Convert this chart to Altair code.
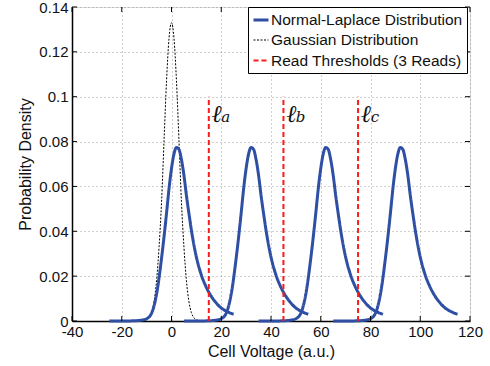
import altair as alt
import pandas as pd

# ---- data ----
centers = [0, 30, 60, 90]
nl_offset = [-25, -20, -15, -12, -10, -8, -6, -4, -2, -1, 0, 1, 2, 3, 4, 5, 6, 7, 8, 9, 10, 12, 14, 16, 18, 20, 22, 25]
nl_density = [0.0, 0.0, 0.0001, 0.0004, 0.0010, 0.0035, 0.0120, 0.0280, 0.0480, 0.0590, 0.0680, 0.0745, 0.0774,
              0.0765, 0.0720, 0.0650, 0.0560, 0.0480, 0.0405, 0.0340, 0.0285, 0.0205, 0.0150, 0.0110, 0.0080,
              0.0058, 0.0044, 0.0030]

gauss_x = [-15, -12, -10, -9, -8, -7, -6, -5, -4, -3, -2, -1, 0, 1, 2, 3, 4, 5, 6, 7, 8, 9, 10, 12, 15]
gauss_y = [0.0, 0.0001, 0.0005, 0.0015, 0.0037, 0.0087, 0.018, 0.033, 0.053, 0.0805, 0.107, 0.126, 0.133,
           0.126, 0.107, 0.0805, 0.053, 0.033, 0.018, 0.0087, 0.0037, 0.0015, 0.0005, 0.0001, 0.0]

thresholds = [15, 45, 75]
threshold_top = 0.1
threshold_names = ["a", "b", "c"]

x_ticks = [-40, -20, 0, 20, 40, 60, 80, 100, 120]
y_ticks = [0, 0.02, 0.04, 0.06, 0.08, 0.1, 0.12, 0.14]

series = ["Normal-Laplace Distribution", "Gaussian Distribution", "Read Thresholds (3 Reads)"]
colors = ["#2E4FA3", "#000000", "#FF1A1A"]
dashes = [[1, 0], [2, 1.5], [5, 3]]
widths = [3, 1, 2]

# ---- tables ----
nl_rows = []
for k, c in enumerate(centers):
    for o, d in zip(nl_offset, nl_density):
        nl_rows.append({"x": c + o, "y": d, "curve": k, "series": series[0]})
nl_df = pd.DataFrame(nl_rows)
g_df = pd.DataFrame({"x": gauss_x, "y": gauss_y, "series": series[1]})
t_df = pd.DataFrame({"x": thresholds, "y": [0] * 3, "y2": [threshold_top] * 3,
                     "series": series[2], "sub": threshold_names, "ell": ["\u2113"] * 3})
xt_df = pd.DataFrame({"x": x_ticks})
yt_df = pd.DataFrame({"y": y_ticks})

W, H = 398, 314
FONT = "Liberation Sans"

xs = alt.Scale(domain=[-40, 120], nice=False, zero=False)
ys = alt.Scale(domain=[0, 0.14], nice=False)

legend = alt.Legend(orient="none", legendX=176, legendY=0, title=None, symbolType="stroke",
                    symbolSize=225, labelFontSize=15.5, labelFont=FONT, labelColor="#111",
                    fillColor="white", strokeColor="black", padding=4, rowPadding=3,
                    labelOffset=1, symbolOffset=0, labelLimit=400)

color_enc = alt.Color("series:N", scale=alt.Scale(domain=series, range=colors), legend=legend)
dash_enc = alt.StrokeDash("series:N", scale=alt.Scale(domain=series, range=dashes), legend=legend)
width_enc = alt.StrokeWidth("series:N", scale=alt.Scale(type="ordinal", domain=series, range=widths),
                            legend=legend)

x_axis = alt.Axis(title="Cell Voltage (a.u.)", values=x_ticks, grid=True, gridDash=[1, 3],
                  gridColor="#888", gridWidth=0.8, tickSize=0, labelPadding=3, labelFontSize=15,
                  labelFont=FONT, labelColor="#111", titleFontSize=16, titleFont=FONT,
                  titleFontWeight="normal", titleColor="#111", titlePadding=4,
                  domainColor="black", domainWidth=1.5, labelFlush=False,
                  labelExpr="'' + datum.value")
y_axis = alt.Axis(title="Probability Density", values=y_ticks, format="~g", grid=True, gridDash=[1, 3],
                  gridColor="#888", gridWidth=0.8, tickSize=0, labelPadding=4, labelFontSize=15,
                  labelFont=FONT, labelColor="#111", titleFontSize=16, titleFont=FONT,
                  titleFontWeight="normal", titleColor="#111", titlePadding=5,
                  domainColor="black", domainWidth=1.5)

gauss = alt.Chart(g_df).mark_line(interpolate="monotone").encode(
    x=alt.X("x:Q", scale=xs, axis=x_axis),
    y=alt.Y("y:Q", scale=ys, axis=y_axis),
    color=color_enc, strokeDash=dash_enc, strokeWidth=width_enc,
)
nl = alt.Chart(nl_df).mark_line(interpolate="monotone").encode(
    x=alt.X("x:Q", scale=xs),
    y=alt.Y("y:Q", scale=ys),
    detail="curve:N",
    color=color_enc, strokeDash=dash_enc, strokeWidth=width_enc,
)
thr = alt.Chart(t_df).mark_rule().encode(
    x=alt.X("x:Q", scale=xs),
    y=alt.Y("y:Q", scale=ys),
    y2="y2:Q",
    color=color_enc, strokeDash=dash_enc, strokeWidth=width_enc,
)
ell = alt.Chart(t_df).mark_text(font="DejaVu Serif", fontStyle="italic", fontSize=24,
                                align="center", baseline="alphabetic", dx=8, color="#111").encode(
    x=alt.X("x:Q", scale=xs), y=alt.value(115), text="ell:N")
sub = alt.Chart(t_df).mark_text(font="DejaVu Serif", fontStyle="italic", fontSize=15,
                                align="center", baseline="alphabetic", dx=17, color="#111").encode(
    x=alt.X("x:Q", scale=xs), y=alt.value(115), text="sub:N")

tick_len = 5
xt_bot = alt.Chart(xt_df).mark_rule(color="black", strokeWidth=1).encode(
    x=alt.X("x:Q", scale=xs), y=alt.value(H), y2=alt.value(H - tick_len))
xt_top = alt.Chart(xt_df).mark_rule(color="black", strokeWidth=1).encode(
    x=alt.X("x:Q", scale=xs), y=alt.value(0), y2=alt.value(tick_len))
yt_left = alt.Chart(yt_df).mark_rule(color="black", strokeWidth=1).encode(
    y=alt.Y("y:Q", scale=ys), x=alt.value(0), x2=alt.value(tick_len))
yt_right = alt.Chart(yt_df).mark_rule(color="black", strokeWidth=1).encode(
    y=alt.Y("y:Q", scale=ys), x=alt.value(W), x2=alt.value(W - tick_len))

chart = alt.layer(gauss, nl, thr, ell, sub, xt_bot, xt_top, yt_left, yt_right).properties(
    width=W, height=H,
    autosize=alt.AutoSizeParams(type="none"),
    padding={"left": 72, "top": 7, "right": 20, "bottom": 45},
).configure_view(stroke="black", strokeWidth=1.5).configure(background="white")

chart.save("out.html", embed_options={"renderer": "svg", "actions": False})
